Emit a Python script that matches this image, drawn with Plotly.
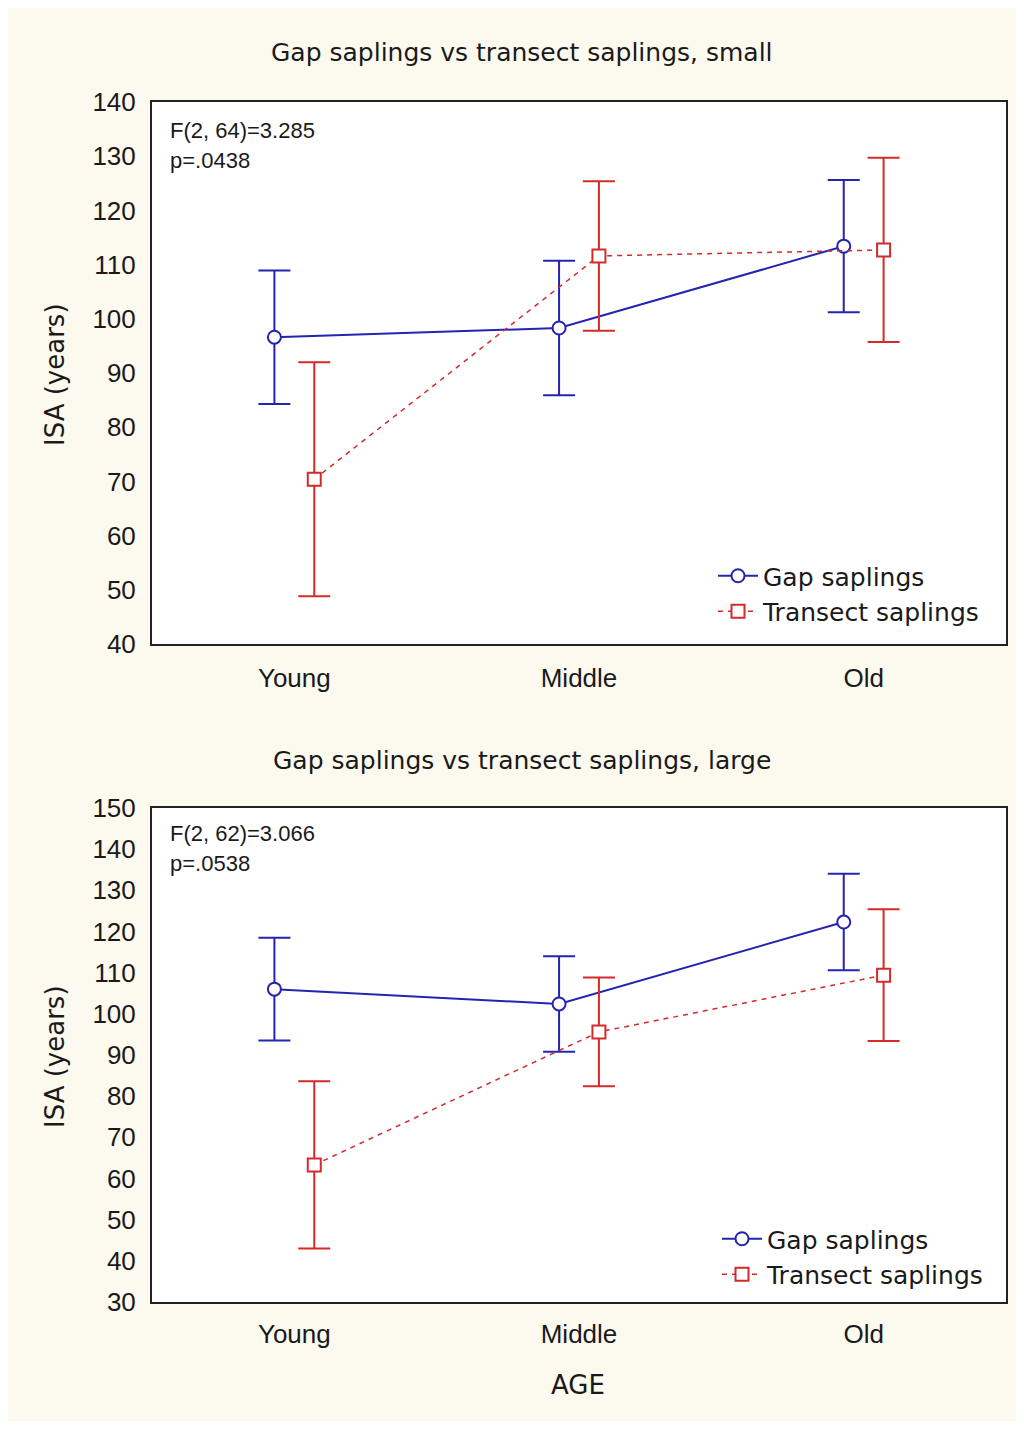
import plotly.graph_objects as go

categories = ["Young", "Middle", "Old"]

# Panel 1: small
small_gap_mean = [96.6, 98.3, 113.4]
small_gap_err = [12.3, 12.4, 12.2]
small_tr_mean = [70.4, 111.6, 112.7]
small_tr_err = [21.6, 13.8, 17.0]

# Panel 2: large
large_gap_mean = [106.0, 102.4, 122.3]
large_gap_err = [12.5, 11.6, 11.7]
large_tr_mean = [63.3, 95.6, 109.4]
large_tr_err = [20.3, 13.2, 16.0]

titles = ["Gap saplings vs transect saplings, small",
          "Gap saplings vs transect saplings, large"]
stats = [["F(2, 64)=3.285", "p=.0438"], ["F(2, 62)=3.066", "p=.0538"]]

BLUE = "#2424B0"
RED = "#D42A2A"
CREAM = "#FCF9EE"
TXT = "#1a1a1a"
TICKFONT = dict(family="Liberation Sans, Arial", size=26, color=TXT)
BIGFONT = dict(family="DejaVu Sans", size=25, color=TXT)

W, H = 1024, 1429
def px(v):
    return v / W
def py(v):
    return 1 - v / H

fig = go.Figure()

def add_pair(gm, ge, tm, te, xa, ya, legend):
    fig.add_trace(go.Scatter(
        x=categories, y=gm, name="Gap saplings", mode="lines+markers",
        xaxis=xa, yaxis=ya, legend=legend, offsetgroup="gap",
        line=dict(color=BLUE, width=2),
        marker=dict(symbol="circle", size=13, color="white", line=dict(color=BLUE, width=2)),
        error_y=dict(type="data", array=ge, color=BLUE, thickness=2, width=16),
    ))
    fig.add_trace(go.Scatter(
        x=categories, y=tm, name="Transect saplings", mode="lines+markers",
        xaxis=xa, yaxis=ya, legend=legend, offsetgroup="tr",
        line=dict(color=RED, width=1.5, dash="5px,5px"),
        marker=dict(symbol="square", size=13, color="white", line=dict(color=RED, width=2)),
        error_y=dict(type="data", array=te, color=RED, thickness=2, width=16),
    ))

add_pair(small_gap_mean, small_gap_err, small_tr_mean, small_tr_err, "x", "y", "legend")
add_pair(large_gap_mean, large_gap_err, large_tr_mean, large_tr_err, "x2", "y2", "legend2")

xdom = [px(152), px(1006)]
axis_common = dict(showline=True, mirror=True, linecolor="#222", linewidth=2,
                   showgrid=False, zeroline=False, tickfont=TICKFONT, ticks="",
                   automargin=False)

fig.update_layout(
    width=W, height=H, margin=dict(l=0, r=0, t=0, b=0, pad=0, autoexpand=False),
    paper_bgcolor=CREAM, plot_bgcolor="white",
    scattermode="group", scattergap=0.72,
    showlegend=True,
    xaxis=dict(domain=xdom, anchor="y", type="category", ticklabelstandoff=10, **axis_common),
    yaxis=dict(domain=[py(644), py(102)], anchor="x", range=[40, 140], dtick=10,
               ticklabelstandoff=9, **axis_common),
    xaxis2=dict(domain=xdom, anchor="y2", type="category", ticklabelstandoff=8, **axis_common),
    yaxis2=dict(domain=[py(1302), py(808)], anchor="x2", range=[30, 150], dtick=10,
                ticklabelstandoff=9, **axis_common),
    legend=dict(x=px(713), y=py(553), xanchor="left", yanchor="top",
                bgcolor="rgba(0,0,0,0)", font=BIGFONT, tracegroupgap=0, itemwidth=40),
    legend2=dict(x=px(717), y=py(1216), xanchor="left", yanchor="top",
                 bgcolor="rgba(0,0,0,0)", font=BIGFONT, tracegroupgap=0, itemwidth=40),
)

ann = []
for t, yc in zip(titles, [53, 760]):
    ann.append(dict(text=t, x=px(522), y=py(yc), xref="paper", yref="paper",
                    showarrow=False, xanchor="center", yanchor="middle", font=BIGFONT))
for yc in [375, 1057]:
    ann.append(dict(text="ISA (years)", x=px(55), y=py(yc), xref="paper", yref="paper",
                    showarrow=False, textangle=-90, xanchor="center", yanchor="middle",
                    font=dict(family="DejaVu Sans", size=26, color=TXT)))
ann.append(dict(text="AGE", x=px(578), y=py(1385), xref="paper", yref="paper",
                showarrow=False, xanchor="center", yanchor="middle",
                font=dict(family="DejaVu Sans", size=26, color=TXT)))
for (l1, l2), y1 in zip(stats, [130, 833]):
    for txt, yy in [(l1, y1), (l2, y1 + 30)]:
        ann.append(dict(text=txt, x=px(168), y=py(yy), xref="paper", yref="paper",
                        showarrow=False, xanchor="left", yanchor="middle",
                        font=dict(family="Liberation Sans, Arial", size=22, color=TXT)))
fig.update_layout(annotations=ann)

fig.add_shape(type="rect", xref="paper", yref="paper", x0=0, y0=0, x1=1, y1=1,
              line=dict(color="white", width=16), fillcolor="rgba(0,0,0,0)", layer="above")

post = (
    "var gd=document.getElementById('{plot_id}');"
    "gd.style.position='absolute';gd.style.top='0px';gd.style.left='0px';"
    "document.body.style.margin='0';document.body.style.padding='0';"
    "document.documentElement.style.overflow='hidden';"
)
fig.write_html("out.html", config={"displayModeBar": False}, post_script=post)
